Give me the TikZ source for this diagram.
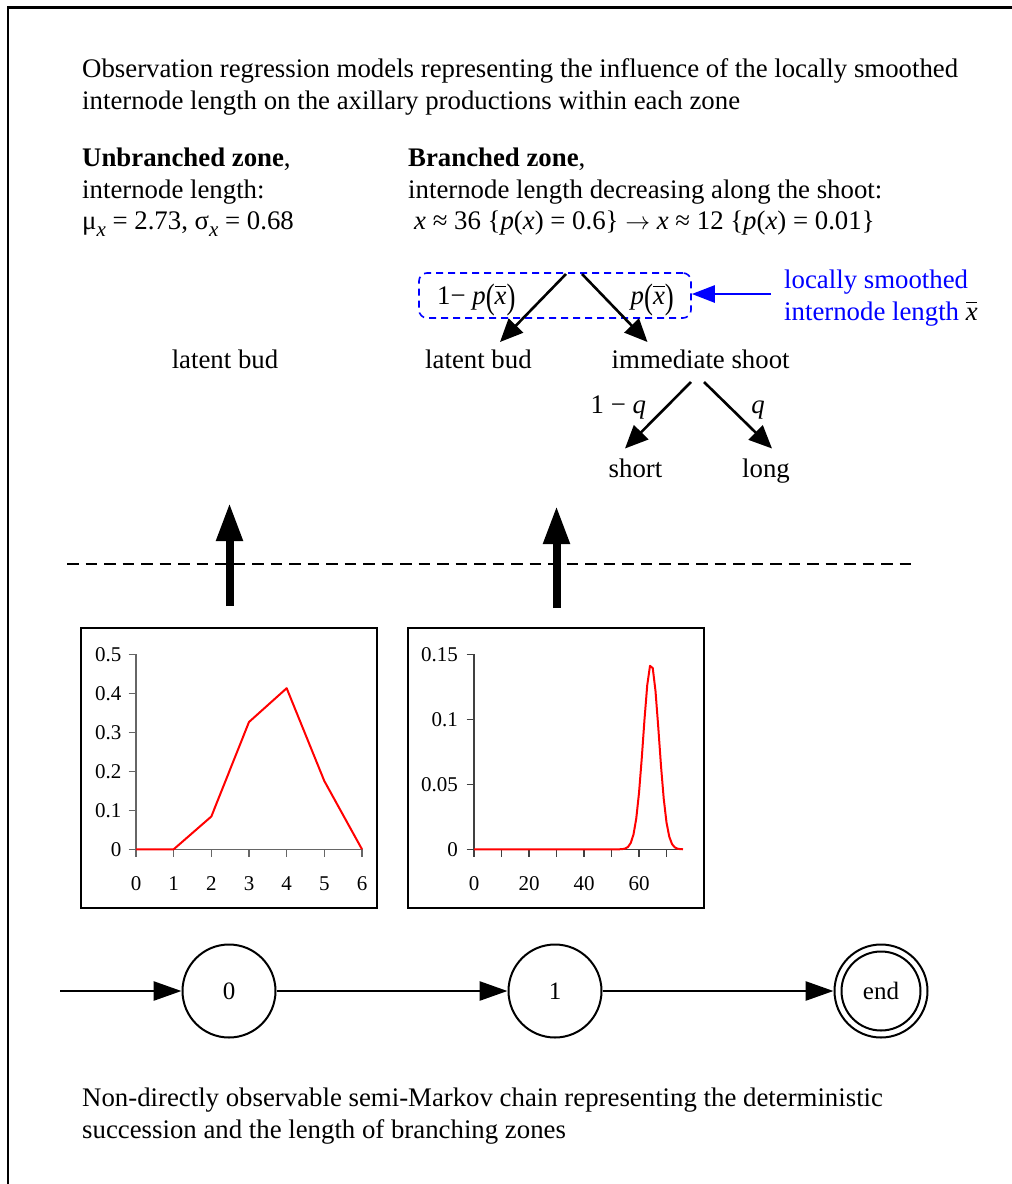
\documentclass[tikz,border=0pt]{standalone}
\usepackage{fontspec}
\usepackage{graphicx}
\setmainfont{Liberation Serif}
\usetikzlibrary{arrows.meta}
\newcommand\xbarx{\textit{x}\llap{\rule[0.62em]{0.42em}{0.065em}\hspace{0.01em}}}
\newcommand\bigpar[1]{\raisebox{-0.16em}{\scalebox{1}[1.32]{#1}}}
\newcommand\subx{\raisebox{-0.28em}{\fontsize{21}{24}\selectfont\textit{x}}}
\begin{document}
\begin{tikzpicture}[x=1pt,y=-1pt,
  txt/.style={font=\fontsize{26.8}{32}\selectfont, inner sep=0pt, anchor=base west},
  ctxt/.style={font=\fontsize{26.8}{32}\selectfont, inner sep=0pt, anchor=base},
  ticklab/.style={font=\fontsize{21}{25}\selectfont, inner sep=0pt},
  branch/.style={line width=2.6pt, -{Triangle[length=23pt,width=20pt]}},
  uparrow/.style={line width=8pt, -{Triangle[length=38pt,width=25pt]}},
  chain/.style={line width=2.8pt, -{Triangle[length=28pt,width=19pt]}},
  state/.style={circle, draw, line width=2pt, minimum size=93pt, inner sep=0pt, font=\fontsize{25}{30}\selectfont},
  axisline/.style={draw=black!60, line width=1.4pt},
  curve/.style={red, line width=2pt, line join=round},
  plotbox/.style={draw, line width=1.5pt},
]
\useasboundingbox (0,0) rectangle (1012,1184);
% frame
\draw[line width=2pt] (8,1184) -- (8,7);
\draw[line width=3pt] (7,7) -- (1012,7);

% header texts
\node[txt] (t1) at (82,77.5) {Observation regression models representing the influence of the locally smoothed};
\node[txt] (t2) at (82,109.5) {internode length on the axillary productions within each zone};

\node[txt] (u1) at (82,166) {\textbf{Unbranched zone},};
\node[txt] (u2) at (82,198) {internode length:};
\node[txt] (u3) at (82,229) {μ\subx\ = 2.73, σ\subx\ = 0.68};

\node[txt] (b1) at (408,166) {\textbf{Branched zone},};
\node[txt] (b2) at (408,198) {internode length decreasing along the shoot:};
\node[txt] (b3) at (414,229) {\textit{x} ≈ 36 \{\textit{p}(\textit{x}) = 0.6\} $\rightarrow$ \textit{x} ≈ 12 \{\textit{p}(\textit{x}) = 0.01\}};

% branched zone tree
\node[draw=blue, dashed, dash pattern=on 7pt off 5pt, line width=1.6pt, rounded corners=8pt,
      minimum width=272pt, minimum height=45pt, inner sep=0pt] (pbox) at (555,295.5) {};
\node[txt] (pl) at (437,304) {1− \textit{p}\bigpar{(}\xbarx\bigpar{)}};
\node[txt] (pr) at (630.5,304) {\textit{p}\bigpar{(}\xbarx\bigpar{)}};
\node[txt, text=blue] (lsm1) at (784,288) {locally smoothed};
\node[txt, text=blue] (lsm2) at (784,320) {internode length \textcolor{black}{\xbarx}};
\coordinate (bluetail) at (771,294);
\draw[blue, line width=2.6pt, -{Triangle[length=23pt,width=17pt]}] (bluetail) -- (pbox.east |- bluetail) ;

\node[ctxt] (lb1) at (225,368) {latent bud};
\node[txt] (lb2) at (425,368) {latent bud};
\node[txt] (ims) at (611.5,368) {immediate shoot};
\node[txt] (oneq) at (590.5,413) {1 − \textit{q}};
\node[ctxt] (q) at (758,413) {\textit{q}};
\node[ctxt] (short) at (635.5,477) {short};
\node[ctxt] (long) at (766,477) {long};

\coordinate (fL) at (566,274);
\coordinate (fR) at (582,274);
\coordinate (tL) at (500,342);
\coordinate (tR) at (647.5,342);
\draw[branch] (fL) -- (tL);
\draw[branch] (fR) -- (tR);
\coordinate (gL) at (691,382);
\coordinate (gR) at (704,382);
\coordinate (hL) at (625,448.5);
\coordinate (hR) at (772,448.5);
\draw[branch] (gL) -- (hL);
\draw[branch] (gR) -- (hR);

% thick arrows and dashed separator
\coordinate (a1s) at (229.5,606);
\coordinate (a1e) at (229.5,503);
\coordinate (a2s) at (556.5,608);
\coordinate (a2e) at (556.5,506);
\draw[line width=1.8pt, dash pattern=on 11.5pt off 7pt] (67,564) -- (915,564);
\draw[uparrow] (a1s) -- (a1e);
\draw[uparrow] (a2s) -- (a2e);

% left plot
\draw[plotbox] (81,628) rectangle (377,908);
\draw[axisline] (136,654.3) -- (136,857);
\draw[axisline] (136,849.3) -- (362,849.3);
\foreach \k in {0,...,6} {
  \draw[axisline] ({136+37.67*\k},849.3) -- ++(0,7.5);
  \node[ticklab] at ({136+37.67*\k},884) {\k};
}
\foreach \v/\lab in {0/0,0.1/0.1,0.2/0.2,0.3/0.3,0.4/0.4,0.5/0.5} {
  \draw[axisline] (128.5,{849.3-390*\v}) -- (136,{849.3-390*\v});
  \node[ticklab, anchor=east] at (121.5,{849.3-390*\v}) {\lab};
}
\draw[curve] (136,849.3) -- (173.67,849.3) -- (211.33,816.5) -- (249,722) -- (286.67,688.2) -- (324.33,781) -- (362,849.3);

% right plot
\draw[plotbox] (408,628) rectangle (704,908);
\draw[axisline, draw=black!75] (474,654.3) -- (474,857);
\draw[axisline, draw=black!75] (474,849.3) -- (683,849.3);
\foreach \k in {0,...,7} {
  \draw[axisline, draw=black!75] ({474+27.5*\k},849.3) -- ++(0,7.5);
}
\foreach \k in {0,20,40,60} {
  \node[ticklab] at ({474+2.75*\k},884) {\k};
}
\foreach \v/\lab in {0/0,0.05/0.05,0.1/0.1,0.15/0.15} {
  \draw[axisline, draw=black!75] (466.5,{849.3-1300*\v}) -- (474,{849.3-1300*\v});
  \node[ticklab, anchor=east] at (458,{849.3-1300*\v}) {\lab};
}
\draw[curve] (474,849.3) -- (617,849.3) -- plot[domain=52:76, samples=25] ({474+2.75*\x},{849.3-1300*0.1425*exp(-((\x-64.4)^2)/(2*2.85*2.85))});

% semi-Markov chain
\node[state] (s0) at (229,991) {0};
\node[state] (s1) at (555,991) {1};
\node[state] (send) at (881,991) {end};
\draw[line width=2pt] (send.center) circle (39.5);
\coordinate (start) at (60,991);
\draw[chain] (start) -- (s0);
\draw[chain] (s0) -- (s1);
\draw[chain] (s1) -- (send);

% bottom text
\node[txt] (f1) at (82,1106) {Non-directly observable semi-Markov chain representing the deterministic};
\node[txt] (f2) at (82,1138) {succession and the length of branching zones};
\end{tikzpicture}
\end{document}
